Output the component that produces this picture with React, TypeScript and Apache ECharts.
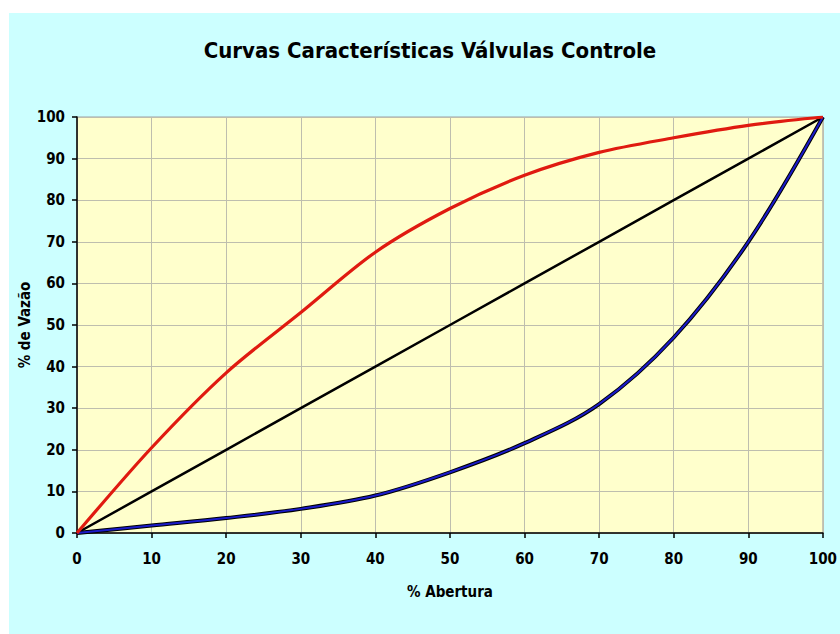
import React, { useEffect, useRef } from "react";
import * as echarts from "echarts";

const abertura = [0, 10, 20, 30, 40, 50, 60, 70, 80, 90, 100];
const rapida = [0, 20.5, 38.5, 53, 67.5, 78, 86, 91.5, 95, 98, 100];
const linear = [0, 10, 20, 30, 40, 50, 60, 70, 80, 90, 100];
const igualPct = [0, 1.8, 3.6, 5.8, 9, 14.6, 21.6, 31, 47, 70, 100];
const xTicks = [0, 10, 20, 30, 40, 50, 60, 70, 80, 90, 100];

const FONT = "'Liberation Sans Narrow', 'DejaVu Sans Condensed', 'Arial Narrow', sans-serif";

const pairs = (ys: number[]) => abertura.map((x, i) => [x, ys[i]]);

export default function App() {
  const ref = useRef<HTMLDivElement>(null);
  useEffect(() => {
    if (!ref.current) return;
    const chart = echarts.init(ref.current, undefined, { renderer: "svg" });
    chart.setOption({
      animation: false,
      backgroundColor: "#ffffff",
      graphic: [
        {
          type: "rect",
          z: -10,
          shape: { x: 9, y: 13, width: 831, height: 621 },
          style: { fill: "#CCFFFF" },
          silent: true,
        },
        {
          type: "text",
          x: 430,
          y: 50,
          style: {
            text: "Curvas Características Válvulas Controle",
            fontFamily: FONT,
            fontSize: 22,
            fontWeight: "bold",
            fill: "#000",
            align: "center",
            verticalAlign: "middle",
          },
        },
      ],
      grid: {
        left: 77,
        right: 10,
        top: 117,
        bottom: 101,
        show: true,
        backgroundColor: "#FFFFCC",
        borderColor: "#A0A0A0",
        borderWidth: 1,
      },
      xAxis: {
        type: "value",
        min: 0,
        max: 100,
        interval: 10,
        name: "% Abertura",
        nameLocation: "middle",
        nameGap: 51,
        nameMoveOverlap: false,
        nameTextStyle: { fontFamily: FONT, fontSize: 15, fontWeight: "bold", color: "#000" },
        axisLine: { show: true, lineStyle: { color: "#000", width: 1.5 } },
        axisTick: { show: true, length: 5, lineStyle: { color: "#000", width: 1.5 } },
        axisLabel: {
          margin: 18,
          fontFamily: FONT,
          fontSize: 15,
          fontWeight: "bold",
          color: "#000",
          customValues: xTicks,
        },
        splitLine: { show: true, lineStyle: { color: "#BEBEAE", width: 1 } },
      },
      yAxis: {
        type: "value",
        min: 0,
        max: 100,
        interval: 10,
        name: "% de Vazão",
        nameLocation: "middle",
        nameGap: 45,
        nameRotate: 90,
        nameMoveOverlap: false,
        nameTextStyle: { fontFamily: FONT, fontSize: 15, fontWeight: "bold", color: "#000" },
        axisLine: { show: true, lineStyle: { color: "#000", width: 1.5 } },
        axisTick: { show: true, length: 5, lineStyle: { color: "#000", width: 1.5 } },
        axisLabel: {
          margin: 12,
          fontFamily: FONT,
          fontSize: 15,
          fontWeight: "bold",
          color: "#000",
        },
        splitLine: { show: true, lineStyle: { color: "#BEBEAE", width: 1 } },
      },
      series: [
        {
          name: "Linear",
          type: "line",
          data: pairs(linear),
          symbol: "none",
          lineStyle: { color: "#000000", width: 2.5 },
        },
        {
          name: "Igual Porcentagem (contorno)",
          type: "line",
          data: pairs(igualPct),
          symbol: "none",
          smooth: 0.35,
          lineStyle: { color: "#000000", width: 4 },
        },
        {
          name: "Igual Porcentagem",
          type: "line",
          data: pairs(igualPct),
          symbol: "none",
          smooth: 0.35,
          lineStyle: { color: "#1A1AC8", width: 2 },
        },
        {
          name: "Abertura Rápida",
          type: "line",
          data: pairs(rapida),
          symbol: "none",
          smooth: 0.3,
          lineStyle: { color: "#E01A10", width: 3.2 },
        },
      ],
    });
    return () => chart.dispose();
  }, []);
  return (
    <div
      ref={ref}
      style={{ position: "fixed", left: 0, top: 0, width: 840, height: 634 }}
    />
  );
}
